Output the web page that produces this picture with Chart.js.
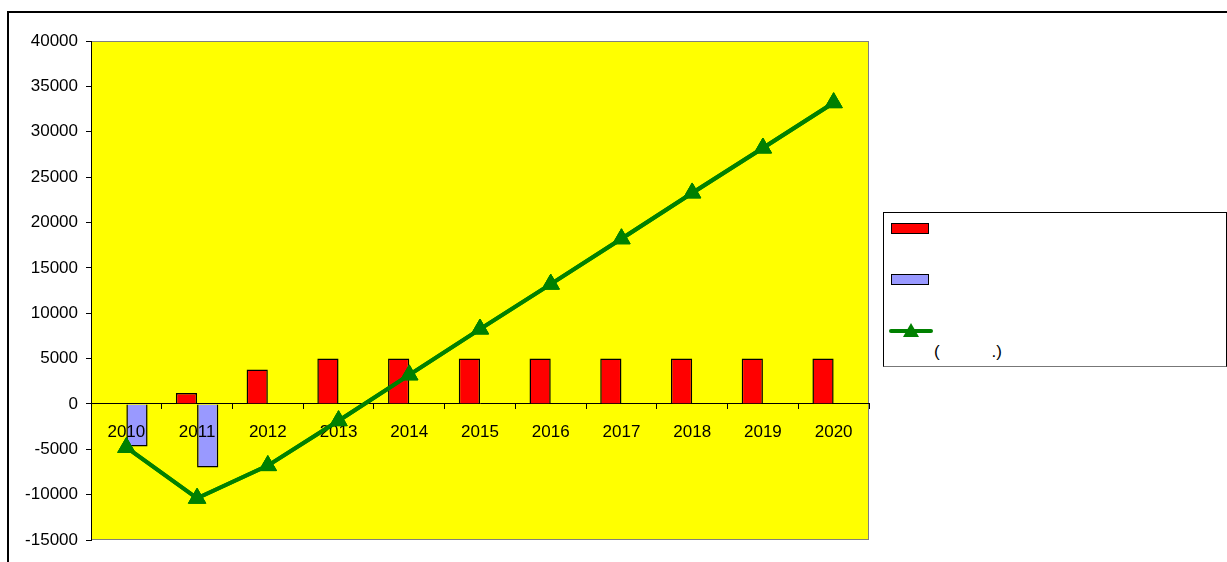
<!DOCTYPE html>
<html>
<head>
<meta charset="utf-8">
<script src="https://cdn.jsdelivr.net/npm/chart.js@4"></script>
<style>
    html, body { margin: 0; padding: 0; background: #fff; }
    body { width: 1227px; height: 562px; position: relative; overflow: hidden; font-family: "Liberation Sans", Arial, sans-serif; }
    .frame { position: absolute; left: 7px; top: 11px; width: 1300px; height: 600px; border-left: 2px solid #000; border-top: 2px solid #000; }
    .chart-wrap { position: absolute; left: 0; top: 0; width: 880px; height: 562px; }
    .legend { position: absolute; left: 883px; top: 212px; width: 342px; height: 153px; border: 1px solid #000; border-bottom-color: #777; background: #fff; }
    .sw { position: absolute; left: 7px; width: 36px; height: 9px; border: 1px solid #000; }
    .ln { position: absolute; left: 5px; top: 116px; width: 44px; height: 4px; background: #008000; border-radius: 2px; }
    .tri { position: absolute; left: 19px; top: 110px; width: 0; height: 0; border-left: 8px solid transparent; border-right: 8px solid transparent; border-bottom: 14px solid #008000; }
    .lbl { position: absolute; left: 50px; font-size: 17px; color: #000; white-space: pre; }
</style>
</head>
<body>
<div class="frame"></div>
<div class="chart-wrap"><canvas id="c"></canvas></div>
<div class="legend">
    <div class="sw" style="top: 10px; background: #ff0000;"></div>
    <div class="lbl" style="top: 4px;"> </div>
    <div class="sw" style="top: 61px; background: #9999ff;"></div>
    <div class="lbl" style="top: 55px;"> </div>
    <div class="ln"></div>
    <div class="tri"></div>
    <div class="lbl" style="top: 129px;">(           .)</div>
</div>
<script>
const years = ['2010', '2011', '2012', '2013', '2014', '2015', '2016', '2017', '2018', '2019', '2020'];
const redValues = [null, 1200, 3800, 5000, 5000, 5000, 5000, 5000, 5000, 5000, 5000];
const blueValues = [-4700, -7000, null, null, null, null, null, null, null, null, null];
const lineValues = [-4800, -10400, -6800, -1850, 3200, 8250, 13200, 18200, 23250, 28200, 33200];
const yMin = -15000, yMax = 40000, yStep = 5000;

const plotBg = {
    id: 'plotBg',
    beforeDraw(chart) {
        const a = chart.chartArea, ctx = chart.ctx;
        ctx.save();
        ctx.fillStyle = '#ffff00';
        ctx.fillRect(a.left, a.top, a.right - a.left, a.bottom - a.top);
        ctx.strokeStyle = '#808080';
        ctx.lineWidth = 1;
        ctx.strokeRect(a.left + 0.5, a.top + 0.5, a.right - a.left - 1, a.bottom - a.top - 1);
        ctx.restore();
    },
    afterDraw(chart) {
        // line goes over the category labels, as in the original
        const meta = chart.getDatasetMeta(0);
        const a = chart.chartArea, ctx = chart.ctx;
        ctx.save();
        ctx.beginPath();
        ctx.rect(a.left, a.top, a.right - a.left, a.bottom - a.top);
        ctx.clip();
        meta.controller.draw();
        ctx.restore();
    }
};

const font = { family: '"Liberation Sans", Arial, sans-serif', size: 17 };

new Chart(document.getElementById('c'), {
    type: 'bar',
    data: {
        labels: years,
        datasets: [
            { type: 'line', data: lineValues, borderColor: '#008000', backgroundColor: '#008000', borderWidth: 4, pointStyle: 'triangle', pointRadius: 10, pointBorderWidth: 1, pointBackgroundColor: '#008000', pointBorderColor: '#008000', order: 0 },
            { data: redValues, backgroundColor: '#ff0000', borderColor: '#000', borderWidth: 1.5, categoryPercentage: 0.6, barPercentage: 1, order: 1 },
            { data: blueValues, backgroundColor: '#9999ff', borderColor: '#000', borderWidth: 1.5, categoryPercentage: 0.6, barPercentage: 1, order: 2 }
        ]
    },
    options: {
        responsive: true,
        maintainAspectRatio: false,
        animation: false,
        layout: { padding: { left: 0, top: 41, right: 11, bottom: 22 } },
        plugins: { legend: { display: false }, tooltip: { enabled: false } },
        scales: {
            x: {
                position: { y: 0 },
                grid: { drawOnChartArea: false, drawTicks: true, tickLength: 5, color: '#000', offset: true },
                border: { color: '#000', width: 1 },
                ticks: { color: '#000', font: font, padding: 13, maxRotation: 0, autoSkip: false, z: 1 }
            },
            y: {
                min: yMin, max: yMax,
                afterFit(s) { s.width = 91; },
                grid: { drawOnChartArea: false, drawTicks: true, tickLength: 5, color: '#000' },
                border: { color: '#000', width: 1 },
                ticks: { color: '#000', font: font, padding: 8, stepSize: yStep, callback: v => String(v) }
            }
        }
    },
    plugins: [plotBg]
});
</script>
</body>
</html>
